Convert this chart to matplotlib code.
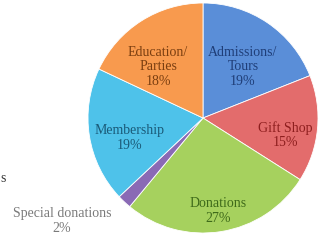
import matplotlib
matplotlib.use("Agg")
import matplotlib.pyplot as plt

categories = ["Admissions/\nTours", "Gift Shop", "Donations", "Special donations", "Membership", "Education/\nParties"]
values = [19, 15, 27, 2, 19, 18]
pct_labels = ["19%", "15%", "27%", "2%", "19%", "18%"]
colors = ["#5A8ED8", "#E36C6C", "#A6D15E", "#8A6AB5", "#4EC2EA", "#F89A4E"]
text_colors = ["#1F3E78", "#8E1E1E", "#3E6A1A", "#7A7A7A", "#1A5A78", "#7A3E10"]
# label positions in figure pixels (x, y from top)
label_pos = [(243, 67), (285, 135), (218, 211), (62, 221), (130, 138), (158, 67)]

W, H = 328, 249
fig = plt.figure(figsize=(W / 100, H / 100), dpi=100)
cx, cy, r = 203, 118, 115
ax = fig.add_axes([(cx - r) / W, (H - cy - r) / H, 2 * r / W, 2 * r / H])
ax.pie(values, colors=colors, startangle=90, counterclock=False, radius=1,
       wedgeprops=dict(edgecolor="white", linewidth=0.6), frame=False)
ax.set_xlim(-1, 1)
ax.set_ylim(-1, 1)
ax.set_aspect("equal")
ax.axis("off")

for cat, pct, tc, (px, py) in zip(categories, pct_labels, text_colors, label_pos):
    fig.text(px / W, 1 - py / H, f"{cat}\n{pct}", ha="center", va="center",
             color=tc, fontsize=10, family="Liberation Serif", linespacing=1.15)

fig.text(0 / W, 1 - 179 / H, "s", ha="left", va="center", color="#333333",
         fontsize=10, family="Liberation Serif")

fig.savefig("out.png", dpi=100)
